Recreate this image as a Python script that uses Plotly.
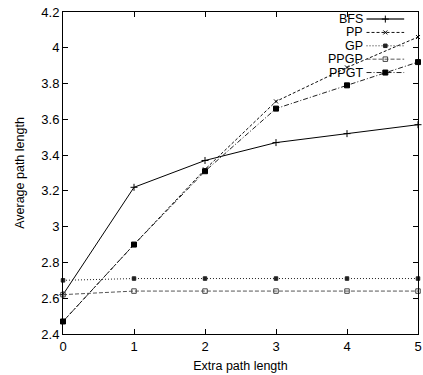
import plotly.graph_objects as go

# Extra path length on the x axis
extra = [0, 1, 2, 3, 4, 5]

# Average path length per method
bfs = [2.62, 3.22, 3.37, 3.47, 3.52, 3.57]
pp = [2.47, 2.90, 3.32, 3.70, 3.89, 4.06]
gp = [2.70, 2.71, 2.71, 2.71, 2.71, 2.71]
ppgp = [2.62, 2.64, 2.64, 2.64, 2.64, 2.64]
ppgt = [2.47, 2.90, 3.31, 3.66, 3.79, 3.92]

names = ["BFS", "PP", "GP", "PPGP", "PPGT"]
series = [bfs, pp, gp, ppgp, ppgt]

styles = [
    dict(color="#000000", dash="solid", symbol="cross-thin", size=5, mfill="#000000"),
    dict(color="#111111", dash="3px,2px", symbol="x-thin", size=4, mfill="#000000"),
    dict(color="#222222", dash="1px,2px", symbol="square", size=3.5, mfill="#222222"),
    dict(color="#555555", dash="4px,2px", symbol="square-open", size=4.5, mfill="#444444"),
    dict(color="#222222", dash="5px,2px,1px,2px", symbol="square", size=5, mfill="#000000"),
]

fig = go.Figure()

for name, vals, st in zip(names, series, styles):
    fig.add_trace(go.Scatter(
        x=extra, y=vals, name=name, mode="lines+markers",
        line=dict(color=st["color"], width=1, dash=st["dash"]),
        marker=dict(symbol=st["symbol"], size=st["size"], color=st["mfill"],
                    line=dict(color=st["mfill"], width=1)),
        showlegend=False, cliponaxis=False,
    ))

# Gnuplot-style key: label on the left, line sample on the right
key_top = 0.978
key_step = 0.0415
x_text = 0.847
x_line0, x_line1 = 0.855, 0.961
for i, (name, st) in enumerate(zip(names, styles)):
    yk = key_top - i * key_step
    fig.add_annotation(x=x_text, y=yk, xref="paper", yref="paper", text=name,
                       showarrow=False, xanchor="right", yanchor="middle",
                       borderpad=0, font=dict(size=12.5, color="#000000"))
    fig.add_trace(go.Scatter(
        x=[x_line0, x_line1], y=[yk, yk],
        xaxis="x2", yaxis="y2", mode="lines",
        line=dict(color="#666666" if i == 0 else st["color"], width=2 if i == 0 else 1,
                  dash=st["dash"]),
        showlegend=False, hoverinfo="skip",
    ))
    fig.add_trace(go.Scatter(
        x=[(x_line0 + x_line1) / 2], y=[yk], xaxis="x2", yaxis="y2", mode="markers",
        marker=dict(symbol=st["symbol"], size=st["size"], color=st["mfill"],
                    line=dict(color=st["mfill"], width=1)),
        showlegend=False, hoverinfo="skip",
    ))

axis_common = dict(
    showline=True, linecolor="#000000", linewidth=1, mirror="allticks",
    ticks="inside", ticklen=5, tickcolor="#000000", showgrid=False, zeroline=False,
    tickfont=dict(size=13, color="#000000"), ticklabeloverflow="allow",
)

fig.update_layout(
    width=423, height=375,
    margin=dict(l=63, r=1, t=12, b=41),
    paper_bgcolor="white", plot_bgcolor="white",
    font=dict(family="Liberation Sans, Arial, sans-serif", size=12, color="#000000"),
    xaxis=dict(range=[0, 5], tickvals=[0, 1, 2, 3, 4, 5],
               title=dict(text="Extra path length", standoff=8, font=dict(size=12.5)),
               **axis_common),
    yaxis=dict(range=[2.4, 4.2], dtick=0.2, tick0=2.4,
               title=dict(text="Average path length", standoff=13, font=dict(size=12.5)),
               **axis_common),
    xaxis2=dict(overlaying="x", range=[0, 1], visible=False),
    yaxis2=dict(overlaying="y", range=[0, 1], visible=False),
)

fig.write_html("out.html")
